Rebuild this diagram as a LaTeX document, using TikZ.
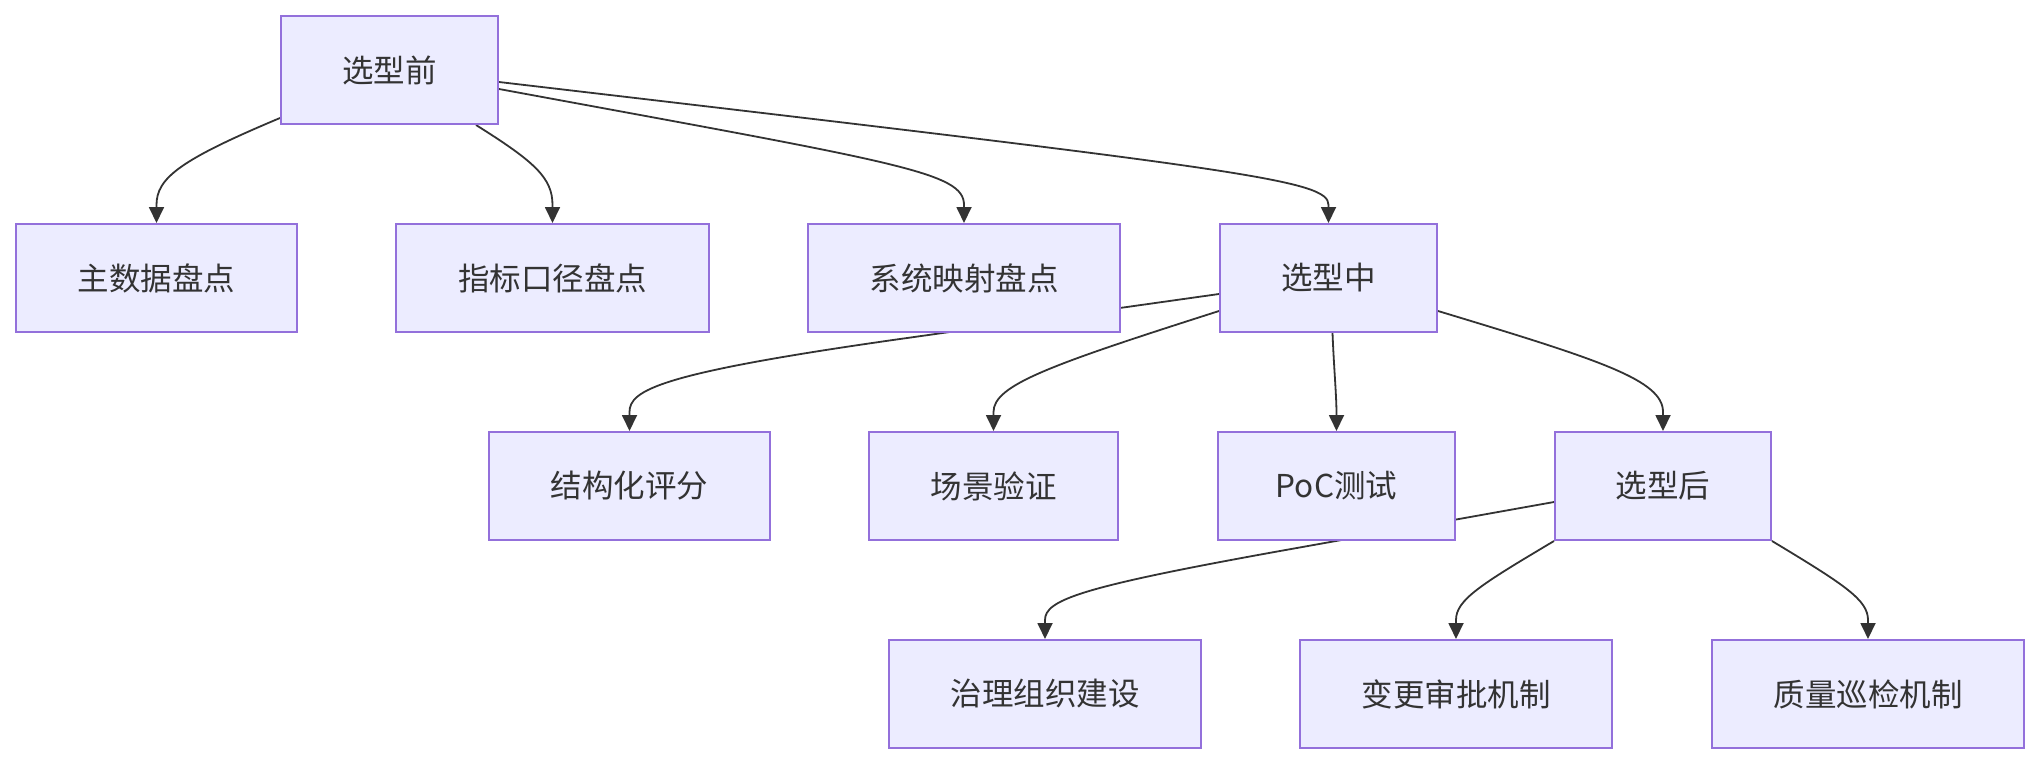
\documentclass[tikz,border=0pt]{standalone}
\usepackage{fontspec}
\setmainfont{Noto Sans CJK SC}
\usetikzlibrary{arrows.meta,calc}
\definecolor{nodefill}{HTML}{ECECFF}
\definecolor{nodeline}{HTML}{9370DB}
\definecolor{edgecol}{HTML}{333333}
\pgfdeclarelayer{bg}
\pgfsetlayers{bg,main}
\begin{document}
\begin{tikzpicture}[x=1pt,y=-1pt,
  box/.style={draw=nodeline,fill=nodefill,line width=2pt,minimum height=108pt,inner sep=0pt,text=edgecol,font=\fontsize{31.5pt}{38pt}\selectfont},
  edge/.style={draw=edgecol,line width=1.8pt,-{Triangle[length=16pt,width=15pt]}}]
\useasboundingbox (0,0) rectangle (2040,764);
\node[box,minimum width=217pt] (A) at (389.5,70) {选型前};
\node[box,minimum width=281pt] (B) at (156.5,278) {主数据盘点};
\node[box,minimum width=313pt] (C) at (552.5,278) {指标口径盘点};
\node[box,minimum width=312pt] (D) at (964,278) {系统映射盘点};
\node[box,minimum width=217pt] (E) at (1328.5,278) {选型中};
\node[box,minimum width=281pt] (F) at (629.5,486) {结构化评分};
\node[box,minimum width=249pt] (G) at (993.5,486) {场景验证};
\node[box,minimum width=237pt] (H) at (1336.5,486) {PoC测试};
\node[box,minimum width=216pt] (I) at (1663,486) {选型后};
\node[box,minimum width=312pt] (J) at (1045,694) {治理组织建设};
\node[box,minimum width=312pt] (K) at (1456,694) {变更审批机制};
\node[box,minimum width=312pt] (L) at (1868,694) {质量巡检机制};
\begin{pgfonlayer}{bg}
\draw[edge] ($(A.west)+(0,48)$) .. controls (180,160) and (156.5,178) .. (156.5,205) -- (B.north);
\draw[edge] ($(A.south east)+(-23,0)$) .. controls (535,162) and (552.5,178) .. (552.5,205) -- (C.north);
\draw[edge] ($(A.east)+(0,19)$) .. controls (900,163) and (964,172) .. (964,205) -- (D.north);
\draw[edge] ($(A.east)+(0,12)$) .. controls (1250,170) and (1328.5,180) .. (1328.5,205) -- (E.north);
\draw[edge] ($(E.west)+(0,16)$) -- (900,339) .. controls (660,373) and (629.5,390) .. (629.5,412) -- (F.north);
\draw[edge] ($(E.west)+(0,33)$) .. controls (1050,365) and (993.5,385) .. (993.5,412) -- (G.north);
\draw[edge] ($(E.south)+(4,0)$) .. controls (1334,370) and (1336.5,395) .. (1336.5,415) -- (H.north);
\draw[edge] ($(E.east)+(0,33)$) .. controls (1600,360) and (1663,380) .. (1663,412) -- (I.north);
\draw[edge] ($(I.west)+(0,16)$) -- (1280,551) .. controls (1080,587) and (1045,600) .. (1045,620) -- (J.north);
\draw[edge] (I.south west) .. controls (1480,585) and (1456,600) .. (1456,620) -- (K.north);
\draw[edge] (I.south east) .. controls (1845,585) and (1868,600) .. (1868,620) -- (L.north);
\end{pgfonlayer}
\end{tikzpicture}
\end{document}
